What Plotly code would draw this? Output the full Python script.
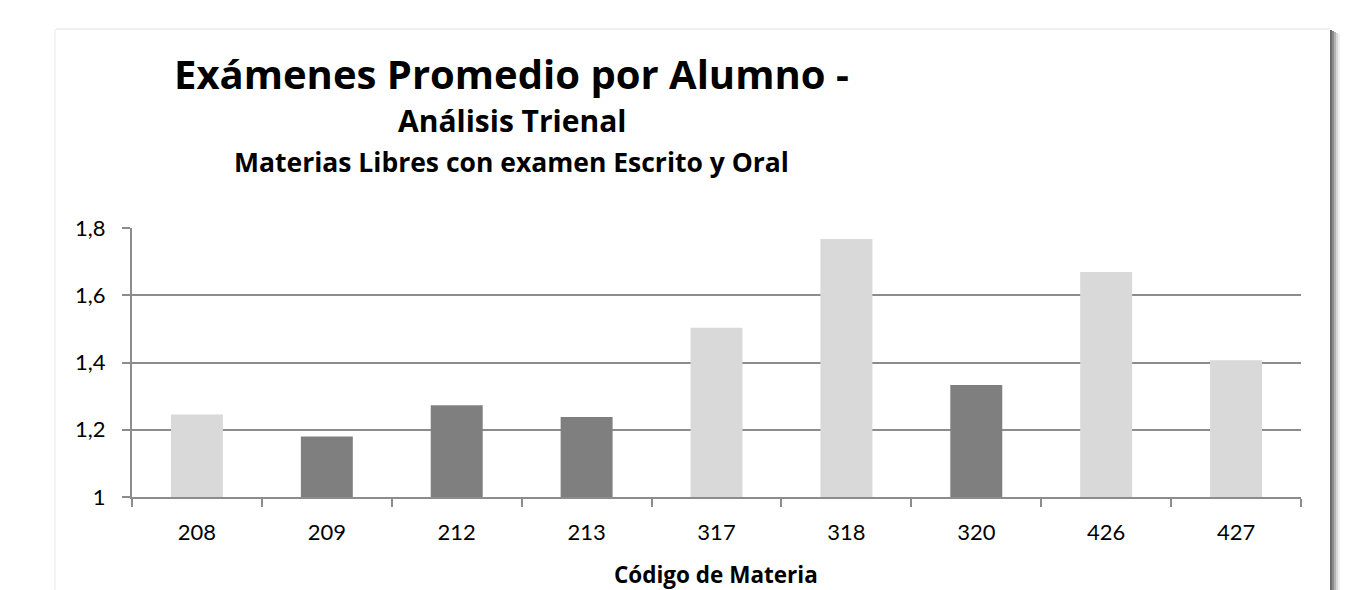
import plotly.graph_objects as go

codigos = ["208", "209", "212", "213", "317", "318", "320", "426", "427"]
promedios = [1.245, 1.18, 1.273, 1.238, 1.503, 1.767, 1.333, 1.669, 1.407]
tono = ["claro", "oscuro", "oscuro", "oscuro", "claro", "claro", "oscuro", "claro", "claro"]
y_ticks = [1, 1.2, 1.4, 1.6, 1.8]

titulo = "Exámenes Promedio por Alumno -"
subtitulo1 = "Análisis Trienal"
subtitulo2 = "Materias Libres con examen Escrito y Oral"
eje_x_titulo = "Código de Materia"

OFF = 8  # page body margin
W, H = 1357 - OFF, 590 - OFF
ML, MT = 132 - OFF, 228 - OFF
MR = W - (1301 - OFF)
MB = H - (497 - OFF)
PW, PH = W - ML - MR, H - MT - MB

def px(x):
    return (x - OFF - ML) / PW

def py(y):
    return (H - MB - (y - OFF)) / PH

paleta = {"claro": "#d9d9d9", "oscuro": "#7f7f7f"}
FONT = "Lato"
TFONT = "Open Sans"

fig = go.Figure(go.Bar(
    x=codigos, y=promedios,
    marker=dict(color=[paleta[t] for t in tono], line=dict(width=0)),
    width=0.4, hoverinfo="x+y",
))

shapes = []
for x0, x1, c in [(1330, 1332, "#6a6a6a"), (1332, 1334, "#8c8c8c"), (1334, 1336, "#b4b4b4"),
                  (1336, 1338, "#d8d8d8"), (1338, 1340, "#f0f0f0")]:
    shapes.append(dict(type="rect", xref="paper", yref="paper", x0=px(x0), x1=px(x1),
                       y0=py(600), y1=py(30 + (x0 - 1330) / 2), fillcolor=c, line=dict(width=0), layer="above"))
shapes.append(dict(type="line", xref="paper", yref="paper", x0=px(56), x1=px(1330), y0=py(29), y1=py(29),
                   line=dict(color="#efefef", width=2)))
shapes.append(dict(type="line", xref="paper", yref="paper", x0=px(55), x1=px(55), y0=py(29), y1=py(600),
                   line=dict(color="#f4f4f4", width=2)))

annotations = [
    dict(text="<b>%s</b>" % titulo, x=px(511), y=py(73), font=dict(size=40, family=TFONT, color="#000")),
    dict(text="<b>%s</b>" % subtitulo1, x=px(512), y=py(121), font=dict(size=30, family=TFONT, color="#000")),
    dict(text="<b>%s</b>" % subtitulo2, x=px(511), y=py(162), font=dict(size=26.5, family=TFONT, color="#000")),
    dict(text="<b>%s</b>" % eje_x_titulo, x=px(716), y=py(574), font=dict(size=22.5, family=TFONT, color="#000")),
]
for a in annotations:
    a.update(xref="paper", yref="paper", showarrow=False, xanchor="center", yanchor="middle")

fig.update_layout(
    width=W, height=H,
    margin=dict(l=ML, r=MR, t=MT, b=MB, pad=0),
    paper_bgcolor="white", plot_bgcolor="white",
    separators=",.",
    showlegend=False,
    shapes=shapes, annotations=annotations,
    font=dict(family=FONT, size=22, color="#000"),
)
fig.update_xaxes(
    type="category", tickson="boundaries", ticks="outside", ticklen=8, tickwidth=2, tickcolor="#8c8c8c",
    showline=True, linecolor="#8c8c8c", linewidth=2, showgrid=False,
    tickfont=dict(size=22, family=FONT, color="#000"), ticklabelstandoff=15,
)
fig.update_yaxes(
    range=[1, 1.8], tickvals=y_ticks, ticks="outside", ticklen=8, tickwidth=2, tickcolor="#8c8c8c",
    showline=True, linecolor="#8c8c8c", linewidth=2,
    showgrid=True, gridcolor="#8c8c8c", gridwidth=2, zeroline=False,
    tickfont=dict(size=22, family=FONT, color="#000"), ticklabelstandoff=12,
)

fig.write_html("out.html")
